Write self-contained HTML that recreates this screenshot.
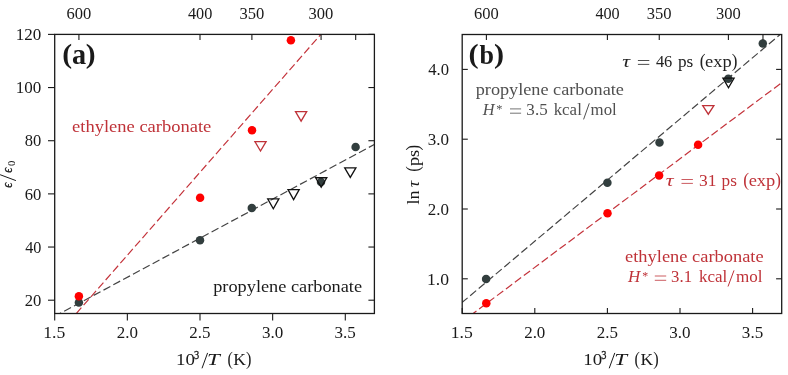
<!DOCTYPE html>
<html><head><meta charset="utf-8"><style>
html,body{margin:0;padding:0;background:#fff;width:788px;height:375px;overflow:hidden;}
svg{display:block;will-change:transform;font-family:"Liberation Serif", serif;}
</style></head><body>
<svg width="788" height="375" viewBox="0 0 788 375">
<rect width="788" height="375" fill="#fff"/>
<defs><clipPath id="ca"><rect x="54.7" y="34.4" width="319.7" height="279.1"/></clipPath>
<clipPath id="cb"><rect x="462.2" y="34.5" width="319.5" height="279.0"/></clipPath></defs>
<line x1="27.40" y1="369.32" x2="369.70" y2="-21.42" stroke="#c4343c" stroke-width="1.20" stroke-dasharray="7.79 3.37" stroke-dashoffset="4.01" clip-path="url(#ca)"/>
<line x1="-2.88" y1="347.32" x2="437.28" y2="110.58" stroke="#444444" stroke-width="1.20" stroke-dasharray="7.79 3.37" stroke-dashoffset="1.99" clip-path="url(#ca)"/>
<circle cx="78.9" cy="302.5" r="4.25" fill="#323e3e"/>
<circle cx="200.0" cy="240.3" r="4.25" fill="#323e3e"/>
<circle cx="251.8" cy="208.1" r="4.25" fill="#323e3e"/>
<circle cx="321.0" cy="182.0" r="4.25" fill="#323e3e"/>
<circle cx="355.6" cy="147.0" r="4.25" fill="#323e3e"/>
<circle cx="78.9" cy="296.3" r="4.25" fill="#ff0000"/>
<circle cx="200.1" cy="197.7" r="4.25" fill="#ff0000"/>
<circle cx="252.0" cy="130.3" r="4.25" fill="#ff0000"/>
<circle cx="290.9" cy="40.2" r="4.25" fill="#ff0000"/>
<polygon points="254.90,141.55 266.10,141.55 260.50,151.00" fill="none" stroke="#bf3238" stroke-width="1.3" stroke-linejoin="miter"/>
<polygon points="295.50,111.65 306.70,111.65 301.10,121.20" fill="none" stroke="#bf3238" stroke-width="1.3" stroke-linejoin="miter"/>
<polygon points="267.70,198.85 278.90,198.85 273.30,208.70" fill="none" stroke="#111" stroke-width="1.3" stroke-linejoin="miter"/>
<polygon points="288.00,189.65 299.20,189.65 293.60,199.60" fill="none" stroke="#111" stroke-width="1.3" stroke-linejoin="miter"/>
<polygon points="315.60,177.75 326.80,177.75 321.20,187.20" fill="none" stroke="#111" stroke-width="1.3" stroke-linejoin="miter"/>
<polygon points="344.70,167.95 355.90,167.95 350.30,177.40" fill="none" stroke="#111" stroke-width="1.3" stroke-linejoin="miter"/>
<rect x="54.7" y="34.4" width="319.7" height="279.1" fill="none" stroke="#1a1a1a" stroke-width="1.3"/>
<line x1="48.00" y1="300.20" x2="54.70" y2="300.20" stroke="#1a1a1a" stroke-width="1.10"/>
<line x1="368.40" y1="300.20" x2="374.40" y2="300.20" stroke="#1a1a1a" stroke-width="1.10"/>
<text x="24.72" y="305.90" font-size="16.50" fill="#1a1a1a" textLength="16.61" lengthAdjust="spacingAndGlyphs">20</text>
<line x1="48.00" y1="247.04" x2="54.70" y2="247.04" stroke="#1a1a1a" stroke-width="1.10"/>
<line x1="368.40" y1="247.04" x2="374.40" y2="247.04" stroke="#1a1a1a" stroke-width="1.10"/>
<text x="25.13" y="252.74" font-size="16.50" fill="#1a1a1a" textLength="16.18" lengthAdjust="spacingAndGlyphs">40</text>
<line x1="48.00" y1="193.88" x2="54.70" y2="193.88" stroke="#1a1a1a" stroke-width="1.10"/>
<line x1="368.40" y1="193.88" x2="374.40" y2="193.88" stroke="#1a1a1a" stroke-width="1.10"/>
<text x="24.74" y="199.58" font-size="16.50" fill="#1a1a1a" textLength="16.60" lengthAdjust="spacingAndGlyphs">60</text>
<line x1="48.00" y1="140.72" x2="54.70" y2="140.72" stroke="#1a1a1a" stroke-width="1.10"/>
<line x1="368.40" y1="140.72" x2="374.40" y2="140.72" stroke="#1a1a1a" stroke-width="1.10"/>
<text x="24.82" y="146.42" font-size="16.50" fill="#1a1a1a" textLength="16.51" lengthAdjust="spacingAndGlyphs">80</text>
<line x1="48.00" y1="87.56" x2="54.70" y2="87.56" stroke="#1a1a1a" stroke-width="1.10"/>
<line x1="368.40" y1="87.56" x2="374.40" y2="87.56" stroke="#1a1a1a" stroke-width="1.10"/>
<text x="15.80" y="93.26" font-size="16.50" fill="#1a1a1a" textLength="25.55" lengthAdjust="spacingAndGlyphs">100</text>
<line x1="48.00" y1="34.40" x2="54.70" y2="34.40" stroke="#1a1a1a" stroke-width="1.10"/>
<line x1="368.40" y1="34.40" x2="374.40" y2="34.40" stroke="#1a1a1a" stroke-width="1.10"/>
<text x="15.80" y="40.10" font-size="16.50" fill="#1a1a1a" textLength="25.55" lengthAdjust="spacingAndGlyphs">120</text>
<line x1="54.70" y1="313.50" x2="54.70" y2="320.40" stroke="#1a1a1a" stroke-width="1.10"/>
<text x="43.25" y="338.00" font-size="16.50" fill="#1a1a1a" textLength="22.04" lengthAdjust="spacingAndGlyphs">1.5</text>
<line x1="127.35" y1="313.50" x2="127.35" y2="320.40" stroke="#1a1a1a" stroke-width="1.10"/>
<text x="116.71" y="338.00" font-size="16.50" fill="#1a1a1a" textLength="21.19" lengthAdjust="spacingAndGlyphs">2.0</text>
<line x1="200.00" y1="313.50" x2="200.00" y2="320.40" stroke="#1a1a1a" stroke-width="1.10"/>
<text x="189.35" y="338.00" font-size="16.50" fill="#1a1a1a" textLength="21.21" lengthAdjust="spacingAndGlyphs">2.5</text>
<line x1="272.65" y1="313.50" x2="272.65" y2="320.40" stroke="#1a1a1a" stroke-width="1.10"/>
<text x="261.94" y="338.00" font-size="16.50" fill="#1a1a1a" textLength="21.26" lengthAdjust="spacingAndGlyphs">3.0</text>
<line x1="345.30" y1="313.50" x2="345.30" y2="320.40" stroke="#1a1a1a" stroke-width="1.10"/>
<text x="334.59" y="338.00" font-size="16.50" fill="#1a1a1a" textLength="21.28" lengthAdjust="spacingAndGlyphs">3.5</text>
<line x1="78.92" y1="34.40" x2="78.92" y2="40.00" stroke="#1a1a1a" stroke-width="1.10"/>
<text x="66.51" y="19.00" font-size="16.50" fill="#1a1a1a" textLength="24.74" lengthAdjust="spacingAndGlyphs">600</text>
<line x1="200.00" y1="34.40" x2="200.00" y2="40.00" stroke="#1a1a1a" stroke-width="1.10"/>
<text x="187.98" y="19.00" font-size="16.50" fill="#1a1a1a" textLength="24.33" lengthAdjust="spacingAndGlyphs">400</text>
<line x1="251.89" y1="34.40" x2="251.89" y2="40.00" stroke="#1a1a1a" stroke-width="1.10"/>
<text x="239.40" y="19.00" font-size="16.50" fill="#1a1a1a" textLength="24.82" lengthAdjust="spacingAndGlyphs">350</text>
<line x1="321.08" y1="34.40" x2="321.08" y2="40.00" stroke="#1a1a1a" stroke-width="1.10"/>
<text x="308.59" y="19.00" font-size="16.50" fill="#1a1a1a" textLength="24.82" lengthAdjust="spacingAndGlyphs">300</text>
<line x1="355.68" y1="34.40" x2="355.68" y2="40.00" stroke="#1a1a1a" stroke-width="1.10"/>
<line x1="398.60" y1="355.98" x2="843.80" y2="-19.08" stroke="#444444" stroke-width="1.20" stroke-dasharray="7.79 3.37" stroke-dashoffset="6.85" clip-path="url(#cb)"/>
<line x1="411.38" y1="359.66" x2="843.42" y2="36.54" stroke="#c4343c" stroke-width="1.20" stroke-dasharray="7.79 3.37" stroke-dashoffset="4.67" clip-path="url(#cb)"/>
<circle cx="486.1" cy="279.1" r="4.25" fill="#323e3e"/>
<circle cx="607.4" cy="182.8" r="4.25" fill="#323e3e"/>
<circle cx="659.5" cy="142.5" r="4.25" fill="#323e3e"/>
<circle cx="728.3" cy="78.8" r="4.25" fill="#323e3e"/>
<circle cx="762.8" cy="43.4" r="4.25" fill="#323e3e"/>
<circle cx="486.3" cy="303.3" r="4.25" fill="#ff0000"/>
<circle cx="607.5" cy="213.2" r="4.25" fill="#ff0000"/>
<circle cx="659.1" cy="175.4" r="4.25" fill="#ff0000"/>
<circle cx="698.1" cy="144.7" r="4.25" fill="#ff0000"/>
<polygon points="702.70,105.55 713.90,105.55 708.30,114.20" fill="none" stroke="#bf3238" stroke-width="1.3" stroke-linejoin="miter"/>
<polygon points="722.90,78.15 734.10,78.15 728.50,87.80" fill="none" stroke="#111" stroke-width="1.3" stroke-linejoin="miter"/>
<rect x="462.2" y="34.5" width="319.5" height="279.0" fill="none" stroke="#1a1a1a" stroke-width="1.3"/>
<line x1="462.20" y1="278.80" x2="467.80" y2="278.80" stroke="#1a1a1a" stroke-width="1.10"/>
<line x1="776.10" y1="278.80" x2="781.70" y2="278.80" stroke="#1a1a1a" stroke-width="1.10"/>
<text x="427.05" y="284.50" font-size="16.50" fill="#1a1a1a" textLength="22.02" lengthAdjust="spacingAndGlyphs">1.0</text>
<line x1="462.20" y1="209.00" x2="467.80" y2="209.00" stroke="#1a1a1a" stroke-width="1.10"/>
<line x1="776.10" y1="209.00" x2="781.70" y2="209.00" stroke="#1a1a1a" stroke-width="1.10"/>
<text x="427.86" y="214.70" font-size="16.50" fill="#1a1a1a" textLength="21.19" lengthAdjust="spacingAndGlyphs">2.0</text>
<line x1="462.20" y1="139.20" x2="467.80" y2="139.20" stroke="#1a1a1a" stroke-width="1.10"/>
<line x1="776.10" y1="139.20" x2="781.70" y2="139.20" stroke="#1a1a1a" stroke-width="1.10"/>
<text x="427.79" y="144.90" font-size="16.50" fill="#1a1a1a" textLength="21.26" lengthAdjust="spacingAndGlyphs">3.0</text>
<line x1="462.20" y1="69.40" x2="467.80" y2="69.40" stroke="#1a1a1a" stroke-width="1.10"/>
<line x1="776.10" y1="69.40" x2="781.70" y2="69.40" stroke="#1a1a1a" stroke-width="1.10"/>
<text x="428.28" y="75.10" font-size="16.50" fill="#1a1a1a" textLength="20.76" lengthAdjust="spacingAndGlyphs">4.0</text>
<line x1="462.20" y1="313.50" x2="462.20" y2="307.90" stroke="#1a1a1a" stroke-width="1.10"/>
<text x="450.75" y="338.00" font-size="16.50" fill="#1a1a1a" textLength="22.04" lengthAdjust="spacingAndGlyphs">1.5</text>
<line x1="534.80" y1="313.50" x2="534.80" y2="307.90" stroke="#1a1a1a" stroke-width="1.10"/>
<text x="524.16" y="338.00" font-size="16.50" fill="#1a1a1a" textLength="21.19" lengthAdjust="spacingAndGlyphs">2.0</text>
<line x1="607.40" y1="313.50" x2="607.40" y2="307.90" stroke="#1a1a1a" stroke-width="1.10"/>
<text x="596.75" y="338.00" font-size="16.50" fill="#1a1a1a" textLength="21.21" lengthAdjust="spacingAndGlyphs">2.5</text>
<line x1="680.00" y1="313.50" x2="680.00" y2="307.90" stroke="#1a1a1a" stroke-width="1.10"/>
<text x="669.29" y="338.00" font-size="16.50" fill="#1a1a1a" textLength="21.26" lengthAdjust="spacingAndGlyphs">3.0</text>
<line x1="752.60" y1="313.50" x2="752.60" y2="307.90" stroke="#1a1a1a" stroke-width="1.10"/>
<text x="741.89" y="338.00" font-size="16.50" fill="#1a1a1a" textLength="21.28" lengthAdjust="spacingAndGlyphs">3.5</text>
<line x1="486.40" y1="34.50" x2="486.40" y2="40.00" stroke="#1a1a1a" stroke-width="1.10"/>
<text x="473.99" y="19.00" font-size="16.50" fill="#1a1a1a" textLength="24.74" lengthAdjust="spacingAndGlyphs">600</text>
<line x1="607.40" y1="34.50" x2="607.40" y2="40.00" stroke="#1a1a1a" stroke-width="1.10"/>
<text x="595.38" y="19.00" font-size="16.50" fill="#1a1a1a" textLength="24.33" lengthAdjust="spacingAndGlyphs">400</text>
<line x1="659.26" y1="34.50" x2="659.26" y2="40.00" stroke="#1a1a1a" stroke-width="1.10"/>
<text x="646.77" y="19.00" font-size="16.50" fill="#1a1a1a" textLength="24.82" lengthAdjust="spacingAndGlyphs">350</text>
<line x1="728.40" y1="34.50" x2="728.40" y2="40.00" stroke="#1a1a1a" stroke-width="1.10"/>
<text x="715.91" y="19.00" font-size="16.50" fill="#1a1a1a" textLength="24.82" lengthAdjust="spacingAndGlyphs">300</text>
<line x1="762.97" y1="34.50" x2="762.97" y2="40.00" stroke="#1a1a1a" stroke-width="1.10"/>
<text x="62.30" y="63.10" font-size="26.90" fill="#1a1a1a" font-weight="bold" textLength="9.85" lengthAdjust="spacingAndGlyphs">(</text>
<text x="71.89" y="63.50" font-size="28.80" fill="#1a1a1a" font-weight="bold" textLength="14.14" lengthAdjust="spacingAndGlyphs">a</text>
<text x="85.85" y="63.10" font-size="26.90" fill="#1a1a1a" font-weight="bold" textLength="9.85" lengthAdjust="spacingAndGlyphs">)</text>
<text x="468.47" y="63.10" font-size="26.90" fill="#1a1a1a" font-weight="bold" textLength="10.11" lengthAdjust="spacingAndGlyphs">(</text>
<text x="479.57" y="63.50" font-size="26.80" fill="#1a1a1a" font-weight="bold" textLength="14.49" lengthAdjust="spacingAndGlyphs">b</text>
<text x="494.12" y="63.10" font-size="26.90" fill="#1a1a1a" font-weight="bold" textLength="10.11" lengthAdjust="spacingAndGlyphs">)</text>
<text x="72.08" y="131.50" font-size="16.30" fill="#bf3238" textLength="139.26" lengthAdjust="spacingAndGlyphs">ethylene carbonate</text>
<text x="213.21" y="292.00" font-size="16.30" fill="#1a1a1a" textLength="148.83" lengthAdjust="spacingAndGlyphs">propylene carbonate</text>
<text x="475.71" y="94.50" font-size="16.30" fill="#505050" textLength="148.23" lengthAdjust="spacingAndGlyphs">propylene carbonate</text>
<text x="625.08" y="261.80" font-size="16.30" fill="#bf3238" textLength="138.56" lengthAdjust="spacingAndGlyphs">ethylene carbonate</text>
<text x="482.68" y="115.30" font-size="17.20" fill="#505050" font-style="italic" textLength="11.79" lengthAdjust="spacingAndGlyphs">H</text>
<text x="496.19" y="112.60" font-size="12.30" fill="#505050" textLength="6.20" lengthAdjust="spacingAndGlyphs">*</text>
<line x1="510.00" y1="108.90" x2="521.10" y2="108.90" stroke="#505050" stroke-width="0.80"/>
<line x1="510.00" y1="113.20" x2="521.10" y2="113.20" stroke="#505050" stroke-width="0.80"/>
<text x="526.39" y="115.30" font-size="16.70" fill="#505050" textLength="21.28" lengthAdjust="spacingAndGlyphs">3.5</text>
<text x="553.68" y="115.30" font-size="16.30" fill="#505050" textLength="28.16" lengthAdjust="spacingAndGlyphs">kcal</text>
<line x1="583.60" y1="119.40" x2="589.30" y2="103.30" stroke="#505050" stroke-width="1.00"/>
<text x="590.55" y="115.30" font-size="16.30" fill="#505050" textLength="26.19" lengthAdjust="spacingAndGlyphs">mol</text>
<text x="627.98" y="282.40" font-size="17.20" fill="#bf3238" font-style="italic" textLength="12.26" lengthAdjust="spacingAndGlyphs">H</text>
<text x="642.22" y="279.70" font-size="12.30" fill="#bf3238" textLength="5.95" lengthAdjust="spacingAndGlyphs">*</text>
<line x1="654.80" y1="276.00" x2="666.20" y2="276.00" stroke="#bf3238" stroke-width="0.80"/>
<line x1="654.80" y1="280.30" x2="666.20" y2="280.30" stroke="#bf3238" stroke-width="0.80"/>
<text x="671.10" y="282.40" font-size="16.70" fill="#bf3238" textLength="20.90" lengthAdjust="spacingAndGlyphs">3.1</text>
<text x="699.08" y="282.40" font-size="16.30" fill="#bf3238" textLength="28.26" lengthAdjust="spacingAndGlyphs">kcal</text>
<line x1="728.00" y1="286.50" x2="734.00" y2="270.40" stroke="#bf3238" stroke-width="1.00"/>
<text x="735.94" y="282.40" font-size="16.30" fill="#bf3238" textLength="26.50" lengthAdjust="spacingAndGlyphs">mol</text>
<text x="622.22" y="66.70" font-size="16.30" fill="#222222" font-style="italic" textLength="7.82" lengthAdjust="spacingAndGlyphs">τ</text>
<line x1="637.90" y1="60.50" x2="649.30" y2="60.50" stroke="#222222" stroke-width="0.80"/>
<line x1="637.90" y1="64.40" x2="649.30" y2="64.40" stroke="#222222" stroke-width="0.80"/>
<text x="655.88" y="66.70" font-size="16.70" fill="#222222" textLength="16.41" lengthAdjust="spacingAndGlyphs">46</text>
<text x="678.02" y="66.70" font-size="16.30" fill="#222222" textLength="15.30" lengthAdjust="spacingAndGlyphs">ps</text>
<text x="699.73" y="66.70" font-size="18.50" fill="#222222" textLength="5.83" lengthAdjust="spacingAndGlyphs">(</text>
<text x="705.08" y="66.70" font-size="16.30" fill="#222222" textLength="26.64" lengthAdjust="spacingAndGlyphs">exp</text>
<text x="731.65" y="66.70" font-size="18.50" fill="#222222" textLength="5.70" lengthAdjust="spacingAndGlyphs">)</text>
<text x="665.82" y="185.70" font-size="16.30" fill="#bf3238" font-style="italic" textLength="7.82" lengthAdjust="spacingAndGlyphs">τ</text>
<line x1="681.50" y1="179.50" x2="692.90" y2="179.50" stroke="#bf3238" stroke-width="0.80"/>
<line x1="681.50" y1="183.40" x2="692.90" y2="183.40" stroke="#bf3238" stroke-width="0.80"/>
<text x="698.96" y="185.70" font-size="16.70" fill="#bf3238" textLength="17.49" lengthAdjust="spacingAndGlyphs">31</text>
<text x="721.62" y="185.70" font-size="16.30" fill="#bf3238" textLength="15.30" lengthAdjust="spacingAndGlyphs">ps</text>
<text x="743.33" y="185.70" font-size="18.50" fill="#bf3238" textLength="5.83" lengthAdjust="spacingAndGlyphs">(</text>
<text x="748.68" y="185.70" font-size="16.30" fill="#bf3238" textLength="26.64" lengthAdjust="spacingAndGlyphs">exp</text>
<text x="775.25" y="185.70" font-size="18.50" fill="#bf3238" textLength="5.70" lengthAdjust="spacingAndGlyphs">)</text>
<text x="176.14" y="364.90" font-size="16.80" fill="#1a1a1a" textLength="18.88" lengthAdjust="spacingAndGlyphs">10</text>
<text x="194.10" y="359.20" font-size="11.50" fill="#1a1a1a" stroke="#1a1a1a" stroke-width="0.3" textLength="5.20" lengthAdjust="spacingAndGlyphs">3</text>
<line x1="202.00" y1="368.30" x2="207.60" y2="352.90" stroke="#1a1a1a" stroke-width="1.00"/>
<text x="206.99" y="364.90" font-size="17.00" fill="#1a1a1a" font-style="italic" textLength="12.85" lengthAdjust="spacingAndGlyphs">T</text>
<text x="227.40" y="364.90" font-size="18.50" fill="#1a1a1a" textLength="5.32" lengthAdjust="spacingAndGlyphs">(</text>
<text x="233.30" y="364.90" font-size="17.00" fill="#1a1a1a" textLength="12.58" lengthAdjust="spacingAndGlyphs">K</text>
<text x="246.07" y="364.90" font-size="18.50" fill="#1a1a1a" textLength="5.45" lengthAdjust="spacingAndGlyphs">)</text>
<text x="583.34" y="364.90" font-size="16.80" fill="#1a1a1a" textLength="18.88" lengthAdjust="spacingAndGlyphs">10</text>
<text x="601.30" y="359.20" font-size="11.50" fill="#1a1a1a" stroke="#1a1a1a" stroke-width="0.3" textLength="5.20" lengthAdjust="spacingAndGlyphs">3</text>
<line x1="609.20" y1="368.30" x2="614.80" y2="352.90" stroke="#1a1a1a" stroke-width="1.00"/>
<text x="614.19" y="364.90" font-size="17.00" fill="#1a1a1a" font-style="italic" textLength="12.85" lengthAdjust="spacingAndGlyphs">T</text>
<text x="634.60" y="364.90" font-size="18.50" fill="#1a1a1a" textLength="5.32" lengthAdjust="spacingAndGlyphs">(</text>
<text x="640.50" y="364.90" font-size="17.00" fill="#1a1a1a" textLength="12.58" lengthAdjust="spacingAndGlyphs">K</text>
<text x="653.27" y="364.90" font-size="18.50" fill="#1a1a1a" textLength="5.45" lengthAdjust="spacingAndGlyphs">)</text>
<g transform="translate(11.9,187.5) rotate(-90)">
<text x="-0.37" y="0.00" font-size="15.00" fill="#1a1a1a" font-style="italic" stroke="#1a1a1a" stroke-width="0.35" textLength="5.07" lengthAdjust="spacingAndGlyphs">ϵ</text>
<line x1="6.90" y1="4.00" x2="12.80" y2="-11.80" stroke="#1a1a1a" stroke-width="1.00"/>
<text x="14.63" y="0.00" font-size="15.00" fill="#1a1a1a" font-style="italic" stroke="#1a1a1a" stroke-width="0.35" textLength="5.07" lengthAdjust="spacingAndGlyphs">ϵ</text>
<text x="21.40" y="2.60" font-size="11.30" fill="#1a1a1a" textLength="5.31" lengthAdjust="spacingAndGlyphs">0</text>
</g>
<g transform="translate(419.4,204.2) rotate(-90)">
<text x="-0.36" y="0.00" font-size="16.30" fill="#1a1a1a" textLength="14.14" lengthAdjust="spacingAndGlyphs">ln</text>
<text x="16.91" y="0.00" font-size="16.30" fill="#1a1a1a" font-style="italic" textLength="6.35" lengthAdjust="spacingAndGlyphs">τ</text>
<text x="32.56" y="0.00" font-size="18.50" fill="#1a1a1a" textLength="5.58" lengthAdjust="spacingAndGlyphs">(</text>
<text x="38.10" y="0.00" font-size="16.30" fill="#1a1a1a" textLength="16.36" lengthAdjust="spacingAndGlyphs">ps</text>
<text x="53.76" y="0.00" font-size="18.50" fill="#1a1a1a" textLength="5.58" lengthAdjust="spacingAndGlyphs">)</text>
</g>
</svg>
</body></html>
